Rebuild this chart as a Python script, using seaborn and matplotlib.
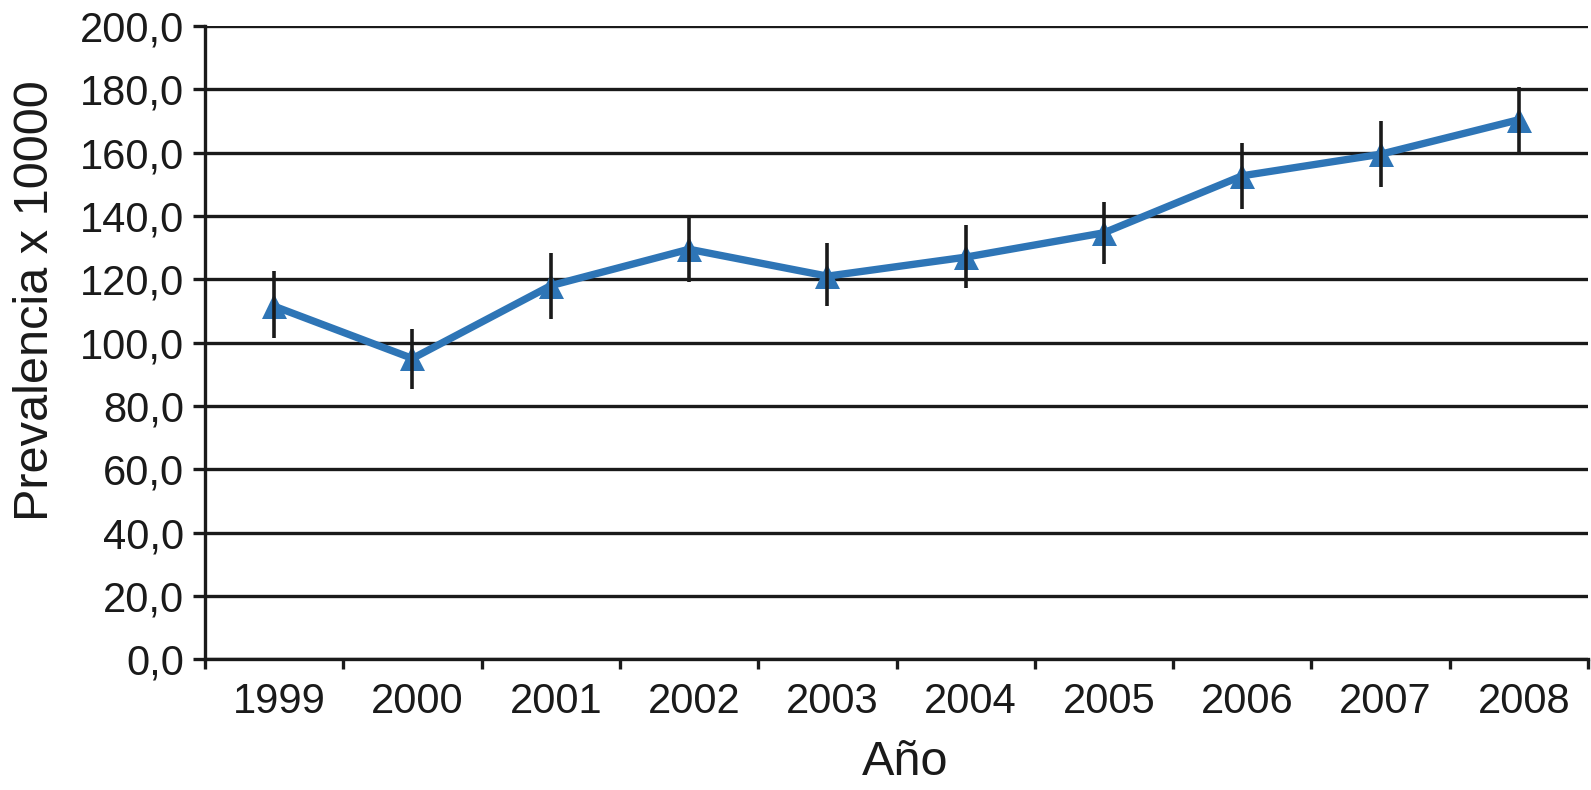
import matplotlib
matplotlib.use("Agg")
import matplotlib.pyplot as plt
import matplotlib.transforms as mtransforms
import seaborn as sns
import pandas as pd
import numpy as np
from matplotlib.ticker import FixedLocator, FuncFormatter

years = [1999, 2000, 2001, 2002, 2003, 2004, 2005, 2006, 2007, 2008]
prevalence = [111.5, 95.0, 118.0, 129.5, 121.0, 127.0, 134.7, 152.7, 159.5, 170.4]
err_low = [101.6, 85.3, 107.4, 119.3, 111.5, 117.2, 124.9, 142.2, 149.0, 160.3]
err_high = [122.5, 104.3, 128.3, 139.6, 131.5, 137.3, 144.5, 163.0, 170.0, 180.8]
y_ticks = [0, 20, 40, 60, 80, 100, 120, 140, 160, 180, 200]

sns.set_theme(style="white")
plt.rcParams['font.family'] = ['Liberation Sans', 'DejaVu Sans']

df = pd.DataFrame({"Año": years, "Prevalencia": prevalence})

fig = plt.figure(figsize=(15.91, 7.90), dpi=100)
ax = fig.add_axes([205/1591, 1 - 659.3/790, (1588-205)/1591, (659.3-26)/790])

blue = "#2E75B6"
ink = "#1a1a1a"
sns.lineplot(data=df, x="Año", y="Prevalencia", ax=ax, color=blue, linewidth=5.3,
             marker="^", markersize=18, markeredgecolor=blue, markeredgewidth=0, zorder=3)

lo = np.array(prevalence) - np.array(err_low)
hi = np.array(err_high) - np.array(prevalence)
ax.errorbar(years, prevalence, yerr=[lo, hi], fmt="none", ecolor=ink,
            elinewidth=2.6, capsize=0, zorder=4)

ax.set_ylim(0, 200)
ax.set_xlim(years[0] - 0.5, years[-1] + 0.5)
ax.set_yticks(y_ticks)
ax.yaxis.set_major_formatter(FuncFormatter(lambda v, p: f"{v:.1f}".replace(".", ",")))
ax.set_xticks(years)
ax.set_xticklabels([str(y) for y in years])
ax.xaxis.set_minor_locator(FixedLocator([y - 0.5 for y in years] + [years[-1] + 0.5]))

for v in y_ticks:
    ax.axhline(v, color=ink, linewidth=2.4, zorder=1)

for s in ["top", "right"]:
    ax.spines[s].set_visible(False)
for s in ["left", "bottom"]:
    ax.spines[s].set_color(ink)
    ax.spines[s].set_linewidth(2.4)

ax.tick_params(axis="y", which="major", left=True, length=9, width=2.4, color=ink,
               labelsize=30, pad=6, labelcolor=ink)
ax.tick_params(axis="x", which="major", bottom=False, length=0, labelsize=30, pad=16,
               labelcolor=ink)
ax.tick_params(axis="x", which="minor", bottom=True, length=7, width=2.4, color=ink)

offset = mtransforms.ScaledTranslation(5/100, 0, fig.dpi_scale_trans)
for lab in ax.get_xticklabels():
    lab.set_transform(lab.get_transform() + offset)

ax.set_xlabel("Año", fontsize=35, color=ink, labelpad=13)
ax.set_ylabel("Prevalencia x 10000", fontsize=35, color=ink, labelpad=16)
ax.xaxis.label.set_x(0.506)
ax.yaxis.label.set_y(0.566)

fig.savefig("out.png", dpi=100, facecolor="white")
